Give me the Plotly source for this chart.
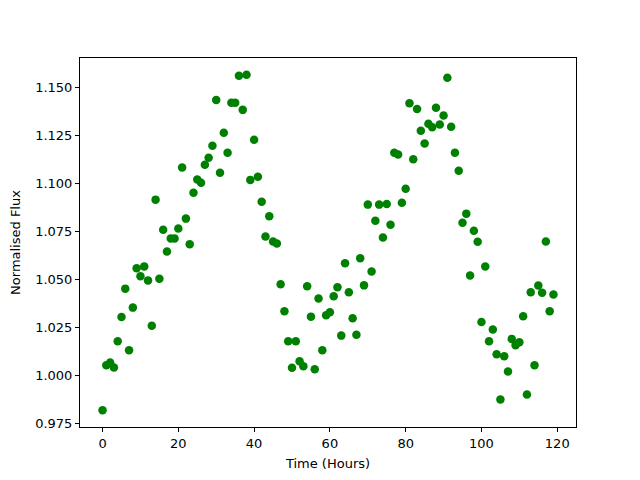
import plotly.graph_objects as go

hours = list(range(120))
flux = [
    0.9819, 1.0054, 1.0068, 1.0042, 1.0179, 1.0305, 1.0453, 1.0132, 1.0354, 1.0559,
    1.0517, 1.0569, 1.0496, 1.0260, 1.0917, 1.0505, 1.0760, 1.0646, 1.0715, 1.0715,
    1.0766, 1.1085, 1.0818, 1.0684, 1.0953, 1.1022, 1.1005, 1.1099, 1.1135, 1.1198,
    1.1437, 1.1057, 1.1266, 1.1161, 1.1422, 1.1422, 1.1563, 1.1385, 1.1568, 1.1020,
    1.1229, 1.1036, 1.0906, 1.0725, 1.0830, 1.0699, 1.0688, 1.0476, 1.0335, 1.0179,
    1.0040, 1.0179, 1.0074, 1.0048, 1.0465, 1.0307, 1.0033, 1.0401, 1.0132, 1.0314,
    1.0330, 1.0413, 1.0460, 1.0208, 1.0585, 1.0434, 1.0298, 1.0213, 1.0611, 1.0470,
    1.0891, 1.0542, 1.0807, 1.0891, 1.0720, 1.0894, 1.0786, 1.1161, 1.1152, 1.0901,
    1.0974, 1.1420, 1.1127, 1.1390, 1.1276, 1.1210, 1.1313, 1.1295, 1.1396, 1.1309,
    1.1356, 1.1552, 1.1297, 1.1161, 1.1068, 1.0797, 1.0844, 1.0522, 1.0755, 1.0698,
    1.0279, 1.0568, 1.0179, 1.0240, 1.0111, 0.9875, 1.0100, 1.0021, 1.0191, 1.0158,
    1.0173, 1.0309, 0.9901, 1.0434, 1.0054, 1.0469, 1.0432, 1.0699, 1.0335, 1.0422,
]

x_ticks = [0, 20, 40, 60, 80, 100, 120]
y_ticks = [0.975, 1.000, 1.025, 1.050, 1.075, 1.100, 1.125, 1.150]

fig = go.Figure(go.Scatter(
    x=hours, y=flux, mode="markers",
    marker=dict(color="#008000", size=8.5, line=dict(width=0)),
))

xmin, xmax = min(hours), max(hours)
ymin, ymax = min(flux), max(flux)
xpad = (xmax - xmin) * 0.05
ypad = (ymax - ymin) * 0.05

axis_common = dict(
    showgrid=False, zeroline=False, showline=True, linecolor="black", linewidth=1,
    mirror=True, ticks="outside", ticklen=4, tickwidth=1, tickcolor="black",
    tickfont=dict(family="DejaVu Sans", size=13, color="black"),
    automargin=False,
)

# the page body adds an 8px offset, so the figure is 8px smaller with shifted margins
fig.update_layout(
    width=632, height=472,
    paper_bgcolor="white", plot_bgcolor="white",
    margin=dict(l=72, r=64, t=50, b=53),
    showlegend=False,
    font=dict(family="DejaVu Sans", size=13, color="black"),
    xaxis=dict(range=[xmin - xpad, xmax + xpad], tickvals=x_ticks,
               ticktext=[str(v) for v in x_ticks],
               title=dict(text="Time (Hours)", font=dict(size=13), standoff=9),
               **axis_common),
    yaxis=dict(range=[ymin - ypad, ymax + ypad], tickvals=y_ticks,
               ticktext=[f"{v:.3f}" for v in y_ticks],
               title=dict(text="Normalised Flux", font=dict(size=13), standoff=11),
               **axis_common),
)

fig.write_html("out.html")
